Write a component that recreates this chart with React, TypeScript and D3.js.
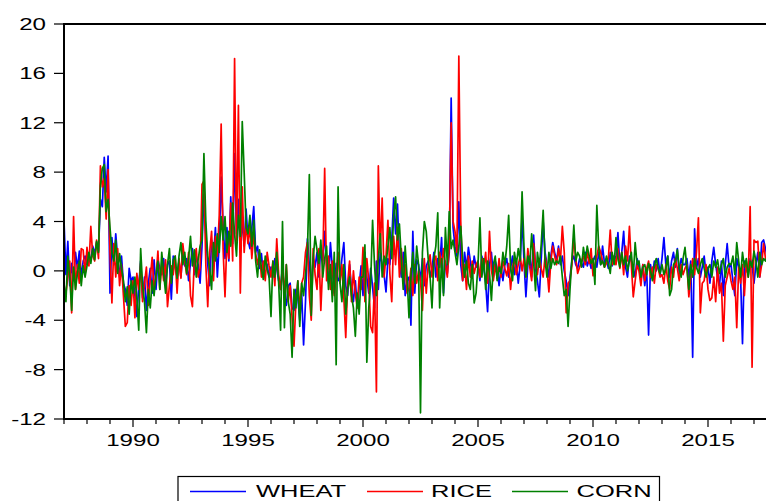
import React from "react";
import * as d3 from "d3";

const START_YEAR = 1987;
const Y_TICKS = [20, 16, 12, 8, 4, 0, -4, -8, -12];
const X_LABELS = [1990, 1995, 2000, 2005, 2010, 2015];
const SERIES_NAMES = ["WHEAT", "RICE", "CORN"];
const SERIES_COLORS = ["#0000ff", "#ff0000", "#008000"];

// monthly values, 1987M01 onward (one row per year)
const WHEAT = [
  4.1, -0.3, 2.4, -1.2, 0.6, -0.8, 1.5, 0.2, 1.6, -0.5, 0.8, 1.2,
  0.5, 1.2, 0.9, 2.0, 1.4, 2.3, 1.6, 5.8, 5.2, 9.2, 6.4, 9.3,
  -1.8, 2.7, 0.5, 3.0, 1.0, -0.5, 1.2, -1.0, -1.5, -2.8, 0.2, -0.8,
  -0.5, -2.0, -3.7, -1.2, 0.8, -2.2, -0.5, -3.2, -1.0, 0.2, -1.8, 0.9,
  -1.5, 0.9, 0.2, -0.3, 1.0, -1.2, 0.5, 0.8, -2.3, 1.2, 0.3, -0.5,
  0.8, -0.5, 1.5, 0.4, 1.0, -0.8, 0.6, 1.8, -0.3, 1.2, 0.5, -1.0,
  2.0, 6.2, 3.0, 0.5, -1.2, 2.5, 1.0, 3.5, -0.5, 2.2, 7.6, 3.8,
  1.0, 3.5, 0.8, 6.0, 2.2, 9.5, 3.0, 5.8, 1.5, 4.2, 2.0, 5.0,
  2.5, 1.8, 3.5, 5.2, 1.5, 2.0, 0.2, 1.4, -0.3, 0.8, 0.5, -0.5,
  0.3, -0.5, 1.0, 0.2, -0.8, -1.5, 0.5, -2.0, -2.8, -1.2, -1.0, -3.0,
  -3.2, -1.5, -2.2, -4.0, -1.8, -6.0, -2.5, 2.6, 0.5, -1.2, 1.0, 0.3,
  1.5, -0.5, 2.0, 0.8, 3.2, 0.5, -1.0, 2.3, 0.2, -1.8, 0.6, -0.8,
  -0.5, 1.0, 2.3, -1.2, -2.0, 0.5, -1.5, -2.5, -0.8, -3.0, -1.2, 0.4,
  -2.0, 1.5, -0.5, -1.8, 0.2, -1.3, -3.0, 0.8, -1.5, 1.5, 0.5, -0.3,
  -1.7, 1.0, 0.5, 2.5, 5.9, 3.0, 5.4, 0.8, -0.5, 1.5, -2.0, -0.8,
  -0.5, -4.4, 3.2, -1.8, 0.9, 0.5, -0.8, 1.0, -1.2, 0.4, 0.8, -0.5,
  0.2, 1.5, -0.5, 1.0, 0.3, 2.7, -1.8, 0.8, -0.2, 1.5, 14.0, 3.5,
  2.0, 1.2, 5.6, 0.5, -0.8, 1.5, 0.2, 1.9, 0.8, -0.5, 1.2, 0.3,
  0.5, -0.8, 1.2, 0.3, -1.0, -3.3, 0.5, 1.5, -0.5, 0.8, 0.2, -1.2,
  0.3, -0.8, 0.5, 1.0, -0.5, 0.2, 1.2, -0.3, 0.8, -1.0, 0.5, 4.4,
  0.8, -2.1, 0.5, 1.2, -0.5, 2.9, 0.2, -0.8, -2.1, 1.0, 4.0, 1.5,
  0.5, -0.5, 1.2, 2.3, 1.5, 0.8, 2.0, 0.5, 1.2, 0.0, -0.8, -2.0,
  -0.5, 0.8, 1.2, 0.5, 0.2, 1.0, 0.6, 0.3, 1.5, 0.4, 0.9, 0.2,
  0.8, 1.2, 0.3, 1.5, 0.5, 2.0, 0.6, 1.0, 0.2, 1.5, 0.4, 1.2,
  1.0, 3.1, 0.5, 1.5, 3.2, 0.3, -0.5, 1.2, 0.8, 0.2, -0.5, 1.0,
  0.3, -0.8, 0.5, -1.2, 0.2, -5.2, 0.5, -0.5, 0.8, 0.0, 1.0, -0.3,
  1.0, 2.7, 0.5, 1.2, -0.5, 0.8, 1.5, 0.3, 1.8, -0.2, 1.0, 0.5,
  0.5, 1.0, -0.5, 0.8, -7.0, 3.4, 0.2, 1.0, -0.5, 0.3, 1.2, -0.3,
  0.3, -1.0, 0.8, 1.9, 0.5, -0.5, -1.2, 0.8, -2.0, 0.5, 2.2, 0.3,
  0.5, -0.8, -2.0, 1.0, 0.3, -0.5, -5.9, 0.8, 0.2, -0.3, 1.0, 0.5,
  -1.0, 0.5, 1.5, -0.5, 2.3, 2.5, 1.8, 1.0, 0.5, 1.2,
];

const RICE = [
  -2.1, -1.8, -0.5, 0.8, -3.4, 4.4, -1.5, 0.5, -1.0, 1.8, 1.7, -0.3,
  1.9, 0.4, 3.6, 1.2, 0.8, 2.5, 1.0, 8.5, 6.8, 7.5, 4.2, 8.2,
  1.5, -2.6, 2.2, -0.5, 1.8, -1.2, 0.5, -2.0, -4.5, -4.2, -1.2, -2.8,
  -0.8, -3.8, -0.2, -1.5, 0.6, -2.5, -1.0, 0.3, -2.8, -0.6, 1.1, -1.4,
  -0.5, 1.6, -1.5, 0.6, -0.8, 0.9, -2.9, -1.2, 0.4, -0.3, 1.2, -1.8,
  1.0, -0.6, 2.2, 0.8, -0.3, 1.5, -2.0, -2.9, 0.9, 1.8, -0.5, 0.2,
  7.0, 7.3, 0.5, -2.9, 1.5, 3.2, -0.8, 2.8, 1.2, 4.5, 11.9, 1.8,
  -2.1, 2.5, 1.0, 5.5, 0.8, 17.2, 2.2, 13.4, -1.8, 6.8, 1.5, 3.8,
  2.2, 3.6, 1.0, 3.0, 1.4, 0.5, 1.5, -0.5, 0.8, -0.8, 1.5, 0.4,
  -0.5, 0.8, -1.2, 2.6, -0.3, -1.5, 0.2, -1.8, 0.5, -2.5, -1.2, -3.8,
  -6.1, -2.5, -0.8, -3.2, -1.0, -0.5, 1.5, 2.3, -2.0, -4.0, 1.8, -0.3,
  -1.5, 1.8, -3.2, 0.5, 8.3, -0.8, 1.2, -1.5, 0.8, -2.0, -0.5, 1.5,
  -1.0, 0.5, -2.2, -5.4, -1.0, 0.8, -2.5, 0.0, -1.8, -3.0, -0.5, -1.5,
  1.9, -2.5, 1.0, -0.8, -4.5, -5.0, -1.0, -9.8, 8.5, 1.5, 5.9, -0.5,
  1.2, 4.1, -0.2, -2.5, 2.8, 0.5, 3.5, -0.5, 1.8, -1.0, 0.5, -1.8,
  -1.4, 0.2, -2.0, 0.5, -1.0, 0.0, -0.8, -3.2, 1.0, -1.8, 0.5, 1.3,
  -0.5, 0.8, 1.2, -0.8, 1.5, 0.2, 1.8, 0.5, -0.5, 2.0, 12.0, 4.0,
  3.2, 1.5, 17.4, 4.0, -0.8, 0.5, -1.5, 1.2, -0.5, 0.8, -0.2, 0.5,
  0.8, -0.5, 1.0, 0.2, 1.5, -1.0, 3.2, 0.0, -0.8, 0.5, -0.6, 1.0,
  -0.5, 0.8, 0.2, -0.4, 0.6, -1.5, 0.3, 1.0, -0.3, 0.5, 1.2, 0.0,
  1.0, -0.5, 1.8, 0.3, -0.8, 2.2, 0.5, -0.3, 1.0, 0.2, -0.5, 1.2,
  0.2, -1.7, 0.8, 2.0, 1.2, 0.5, 1.8, 0.8, 3.6, 1.5, -3.4, -1.0,
  -0.8, 0.5, 2.7, 1.0, -0.2, 0.3, 0.8, 1.2, 0.5, 1.5, 0.6, 1.8,
  -0.4, 0.5, 1.2, 2.0, 1.5, 0.8, 0.3, 0.6, 1.0, 3.3, 0.5, 1.2,
  0.5, 1.8, 0.2, 1.5, -0.3, 2.0, 0.8, 3.6, 0.5, -2.1, -0.8, 0.5,
  0.0, -1.2, 0.5, -0.8, 0.2, 0.8, -0.5, 0.3, -1.0, 0.5, 0.2, -0.5,
  -0.3, -1.0, 0.5, -0.8, -1.5, 0.3, -0.5, 1.0, 0.2, -0.8, 0.5, -0.3,
  0.2, 0.5, -2.1, -0.5, 1.0, -0.3, 1.5, 4.3, -3.4, -1.0, -0.8, 0.5,
  -1.5, -2.4, -2.2, -0.5, -2.5, 0.3, -1.8, -1.0, -5.7, -1.2, -0.5, 0.2,
  -0.8, -1.5, -0.5, -4.6, 0.3, -1.0, 0.5, -2.0, 0.8, -0.5, 5.2, -7.8,
  2.5, 2.3, 2.4, -0.5, 0.5, 2.2, 1.0, 0.8, 1.5, 0.5,
];

const CORN = [
  -1.0, -2.5, 1.2, -0.5, -3.2, 0.3, -1.5, -0.2, 0.8, -1.2, 0.4, -0.5,
  0.4, 1.5, 0.6, 1.8, 0.9, 2.4, 1.5, 6.9, 8.3, 8.6, 4.8, 5.8,
  3.5, 1.5, 0.8, 2.5, -0.2, 1.4, 0.2, -0.8, -2.5, -1.3, -3.5, -0.8,
  -1.8, -0.5, -2.2, -4.8, 1.8, -1.2, -2.5, -5.0, -1.5, -3.0, -0.8, -2.0,
  -0.3, 0.8, -1.5, 1.5, -0.2, -1.8, 0.5, 1.8, -1.0, 0.9, 1.2, -0.6,
  1.2, 2.3, 0.5, 1.5, -0.2, 1.0, 2.8, 0.4, 1.7, -0.5, 0.9, 2.0,
  2.5, 9.5, 4.0, 1.2, 0.2, -1.5, 2.3, 0.8, 3.0, 1.5, 4.4, 2.5,
  4.4, 1.5, 3.2, 2.0, 5.5, 3.0, 1.2, 4.5, 2.8, 12.1, 8.0, 3.5,
  3.0, 4.5, 2.0, 4.1, 0.8, -0.5, 1.7, 0.2, -0.7, 1.2, 0.1, -0.5,
  -3.7, 0.8, -0.5, 1.5, -1.0, -4.8, 4.0, -4.6, 0.5, -2.5, -3.5, -7.0,
  -1.5, -3.0, -0.8, -4.5, -1.0, -2.0, -0.3, 1.5, 7.8, -3.6, 1.0, 2.8,
  1.7, 0.6, 2.5, -0.5, 1.0, 2.0, -1.5, 0.5, -2.5, 1.5, -7.6, 6.8,
  -1.0, -2.5, 0.5, -3.5, -1.5, -0.5, -2.0, -3.0, -5.3, -1.8, -3.5, -0.5,
  -0.5, 2.1, -7.4, -3.0, -1.0, 4.1, 0.5, -2.0, 1.0, 3.0, -0.5, 1.2,
  0.5, 2.0, 3.5, 1.0, 4.5, 6.0, 2.5, 3.8, 1.0, -1.5, 2.0, -0.5,
  -3.8, -0.5, 1.5, -1.0, 2.0, 0.5, -11.5, 1.5, 4.0, 3.2, 1.0, -0.5,
  -3.0, 1.0, 2.0, 4.7, -3.0, 1.0, -2.0, 3.5, 0.5, 4.8, 1.8, 2.5,
  1.5, 0.5, 2.0, 3.6, 1.0, -0.5, 0.8, -1.0, -1.5, 0.5, -2.6, -1.8,
  0.5, 4.3, -0.5, 1.0, -1.5, 0.8, -0.2, -2.4, 0.5, 1.2, -0.8, 0.3,
  -0.2, 1.5, 0.5, 2.0, 4.5, 0.3, -0.8, 1.5, 0.5, 1.8, 0.8, 6.4,
  2.0, -0.5, 1.2, 0.5, 3.0, 0.8, -1.6, 1.5, 0.3, 2.2, 4.9, 0.8,
  -0.5, 1.5, 0.2, 1.0, 0.5, 0.8, 0.6, 1.2, -0.5, -2.0, -1.5, -4.5,
  -1.5, 1.0, 3.7, 0.8, 1.5, 1.2, 0.3, 1.9, 0.8, 2.0, 1.2, 0.6,
  1.0, -1.1, 5.3, 1.8, 0.5, 0.8, 0.3, 1.2, 0.6, -0.2, 1.5, 0.5,
  2.7, 1.0, 0.3, 1.5, 0.5, 1.2, 0.0, 0.8, 1.5, -0.5, 2.3, 0.5,
  0.8, -0.5, 0.3, 0.5, -0.3, 0.6, 0.0, -0.8, 0.4, 1.0, 0.2, -0.2,
  0.5, -0.3, 0.2, 1.2, -2.0, -1.5, 0.5, 0.8, 1.7, 0.2, -0.5, 1.0,
  1.9, 0.2, -1.5, 0.5, -0.5, 1.0, 0.3, -0.2, 0.5, 1.0, 0.2, -0.5,
  0.2, 0.5, -0.5, 0.8, 0.3, 0.9, -0.2, 0.5, 1.0, -0.5, 0.3, 0.6,
  0.5, 1.2, -0.3, 2.3, 0.8, -0.5, 1.5, 0.3, 1.0, -0.5, 0.8, 0.3,
  1.6, 0.8, -0.5, 1.5, 0.5, 1.0, 0.8, 1.2, 0.3, 0.9,
];

const SERIES = [WHEAT, RICE, CORN];

const W = 766;
const H = 501;
const LEFT = 64;
const RIGHT = 774;
const TOP = 24;
const BOTTOM = 419;
const FONT = "'Liberation Sans', Arial, sans-serif";
const FS = 17;
const SX = 1.42;

export default function App() {
  const x = d3.scaleLinear().domain([START_YEAR, START_YEAR + (RIGHT - LEFT) / 23]).range([LEFT, RIGHT]);
  const y = d3.scaleLinear().domain([-12, 20]).range([BOTTOM, TOP]);
  const line = d3
    .line<number>()
    .x((_, i) => x(START_YEAR + i / 12))
    .y((d) => y(d));

  const years = d3.range(START_YEAR, 2018);

  const legendItems = [
    { lx: 190, tx: 256 },
    { lx: 367, tx: 431 },
    { lx: 512, tx: 576.5 },
  ];

  return (
    <svg
      width={W}
      height={H}
      style={{ position: "absolute", left: 0, top: 0, background: "#fff" }}
    >
      <rect x={0} y={0} width={W} height={H} fill="#fff" />
      {SERIES.map((s, k) => (
        <path
          key={SERIES_NAMES[k]}
          d={line(s) || ""}
          fill="none"
          stroke={SERIES_COLORS[k]}
          strokeWidth={1.7}
          strokeLinejoin="round"
        />
      ))}
      {/* frame */}
      <path
        d={`M${LEFT},${BOTTOM}V${TOP}H${RIGHT}V${BOTTOM}Z`}
        fill="none"
        stroke="#000"
        strokeWidth={2}
      />
      {/* y ticks */}
      {Y_TICKS.map((t) => (
        <g key={t}>
          <line x1={LEFT - 10} x2={LEFT} y1={y(t)} y2={y(t)} stroke="#000" strokeWidth={1.2} />
          <text
            transform={`translate(46,${y(t) + 6}) scale(${SX},1)`}
            textAnchor="end"
            fontFamily={FONT}
            fontSize={FS}
            fill="#000"
          >
            {t}
          </text>
        </g>
      ))}
      {/* x ticks */}
      {years.map((yr) => (
        <line
          key={yr}
          x1={x(yr)}
          x2={x(yr)}
          y1={BOTTOM}
          y2={BOTTOM + (yr % 5 === 0 ? 8 : 5)}
          stroke="#000"
          strokeWidth={1.2}
        />
      ))}
      {X_LABELS.map((yr) => (
        <text
          key={yr}
          transform={`translate(${x(yr)},446) scale(${SX},1)`}
          textAnchor="middle"
          fontFamily={FONT}
          fontSize={FS}
          fill="#000"
        >
          {yr}
        </text>
      ))}
      {/* legend */}
      <rect x={178} y={476.5} width={481.5} height={32} fill="#fff" stroke="#000" strokeWidth={1.2} />
      {legendItems.map((it, k) => (
        <g key={SERIES_NAMES[k]}>
          <line x1={it.lx} x2={it.lx + 56} y1={491.5} y2={491.5} stroke={SERIES_COLORS[k]} strokeWidth={1.6} />
          <text
            transform={`translate(${it.tx},497) scale(1.5,1)`}
            fontFamily={FONT}
            fontSize={FS}
            fill="#000"
          >
            {SERIES_NAMES[k]}
          </text>
        </g>
      ))}
    </svg>
  );
}
